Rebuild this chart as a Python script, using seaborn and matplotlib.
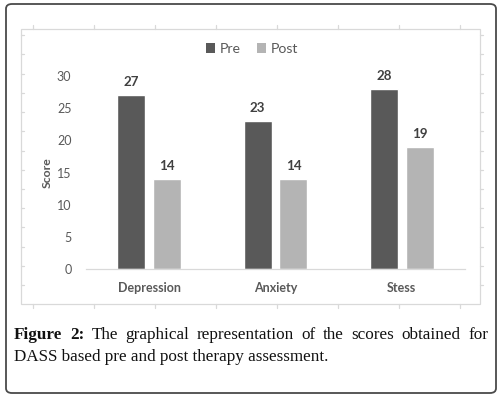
import numpy as np
import pandas as pd
import matplotlib
matplotlib.use("Agg")
import matplotlib.pyplot as plt
import seaborn as sns
from matplotlib.patches import FancyBboxPatch, Rectangle, Patch
from matplotlib.lines import Line2D

# ------------------------ #
# Data
# ------------------------ #
categories = ["Depression", "Anxiety", "Stess"]
phases = ["Pre", "Post"]
pre_scores = [27, 23, 28]
post_scores = [14, 14, 19]
y_ticks = [0, 5, 10, 15, 20, 25, 30]
caption_bold = "Figure 2:"
caption_line1 = "The graphical representation of the scores obtained for"
caption_line2 = "DASS based pre and post therapy assessment."

df = pd.DataFrame({
    "Category": categories * 2,
    "Phase": ["Pre"] * len(categories) + ["Post"] * len(categories),
    "Score": pre_scores + post_scores,
})

# ------------------------ #
# Style
# ------------------------ #
sns.set_style("white")
plt.rcParams["font.family"] = ["Lato", "DejaVu Sans"]
txt_col = "#595959"
colors = {"Pre": "#595959", "Post": "#b4b4b4"}

W, H = 499, 397
fig = plt.figure(figsize=(W / 100, H / 100), dpi=100)

# outer rounded border
fig.patches.append(FancyBboxPatch((6 / W, 4 / H), 490 / W, 389 / H,
                                  boxstyle="round,pad=0,rounding_size=0.012",
                                  transform=fig.transFigure, fill=False,
                                  edgecolor="#4a4a4a", linewidth=1.3))

# inner chart frame with small ticks
fx0, fx1, fy0, fy1 = 21, 480, 29, 304
fig.patches.append(Rectangle((fx0 / W, 1 - fy1 / H), (fx1 - fx0) / W, (fy1 - fy0) / H,
                             transform=fig.transFigure, fill=False,
                             edgecolor="#d9d9d9", linewidth=0.9))
for x in np.arange(33, 470, 61):
    fig.lines.append(Line2D([x / W, x / W], [1 - (fy0 - 4) / H, 1 - fy0 / H],
                            transform=fig.transFigure, color="#d9d9d9", lw=0.9))
    fig.lines.append(Line2D([x / W, x / W], [1 - fy1 / H, 1 - (fy1 + 4) / H],
                            transform=fig.transFigure, color="#d9d9d9", lw=0.9))
for y in np.arange(35, 300, 19.25):
    fig.lines.append(Line2D([fx0 / W, (fx0 + 3) / W], [1 - y / H, 1 - y / H],
                            transform=fig.transFigure, color="#d9d9d9", lw=0.9))
    fig.lines.append(Line2D([fx1 / W, (fx1 + 3) / W], [1 - y / H, 1 - y / H],
                            transform=fig.transFigure, color="#d9d9d9", lw=0.9))

# ------------------------ #
# Bar chart
# ------------------------ #
ax = fig.add_axes([86 / W, 1 - 269 / H, (465 - 86) / W, (269 - 76) / H])
sns.barplot(data=df, x="Category", y="Score", hue="Phase", hue_order=phases,
            order=categories, palette=colors, width=0.567, gap=0.22,
            saturation=1, legend=False, ax=ax)

ax.set_xlim(-0.5, 2.5)
ax.set_ylim(0, 30)
ax.set_yticks(y_ticks)
ax.tick_params(axis="y", length=0, labelsize=9, labelcolor=txt_col, pad=10.5)
ax.tick_params(axis="x", length=0, labelsize=9, labelcolor=txt_col, pad=9)
for lab in ax.get_xticklabels():
    lab.set_fontweight("bold")
ax.set_xlabel("")
ax.set_ylabel("Score", fontsize=8.8, fontweight="bold", color=txt_col, labelpad=3)
for side in ["top", "right", "left"]:
    ax.spines[side].set_visible(False)
ax.spines["bottom"].set_color("#d9d9d9")
ax.spines["bottom"].set_linewidth(0.9)

for cont in ax.containers:
    ax.bar_label(cont, padding=5, fontsize=9.6, fontweight="bold",
                 color="#404040", clip_on=False)

handles = [Patch(facecolor=colors[p], edgecolor="none") for p in phases]
fig.legend(handles, phases, loc="center", bbox_to_anchor=(252 / W, 1 - 49 / H),
           ncol=2, frameon=False, fontsize=10.2, labelcolor=txt_col,
           handlelength=0.65, handleheight=0.65, handletextpad=0.35,
           columnspacing=1.1)

# ------------------------ #
# Caption (justified first line)
# ------------------------ #
serif = ["Liberation Serif", "DejaVu Serif"]
cap_size = 12.3
left, right = 14 / W, 488 / W
y1, y2 = 1 - 339 / H, 1 - 361 / H

words = [(w, "bold") for w in caption_bold.split()] + \
        [(w, "normal") for w in caption_line1.split()]
texts = [fig.text(0, y1, w, fontsize=cap_size, fontweight=fw, family=serif,
                  color="#111111", ha="left", va="baseline") for w, fw in words]
fig.canvas.draw()
renderer = fig.canvas.get_renderer()
widths = [t.get_window_extent(renderer).width / (W) for t in texts]
gap = (right - left - sum(widths)) / (len(texts) - 1)
x = left
for t, w in zip(texts, widths):
    t.set_x(x)
    x += w + gap

fig.text(left, y2, caption_line2, fontsize=cap_size, family=serif,
         color="#111111", ha="left", va="baseline")

fig.savefig("out.png", dpi=100)
